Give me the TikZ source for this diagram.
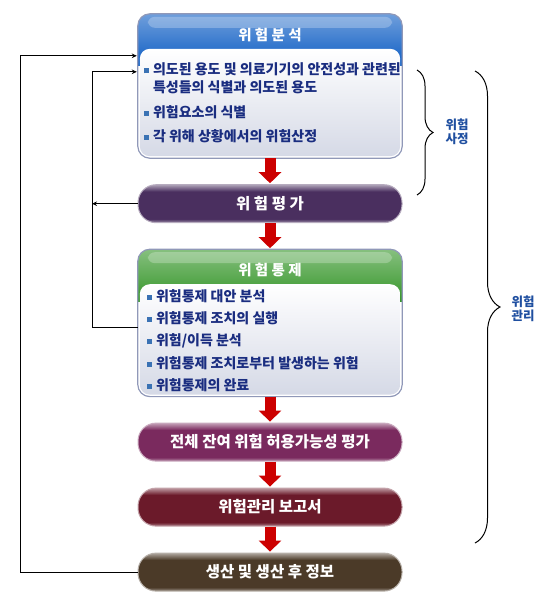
\documentclass[tikz,border=0pt]{standalone}
\usepackage{fontspec}
\setmainfont{Noto Sans CJK KR}
\usepackage{xcolor}
\usetikzlibrary{arrows.meta,positioning,calc,decorations.pathreplacing}

\definecolor{hdblue}{HTML}{0F5EC4}
\definecolor{hdgreen}{HTML}{36962A}
\definecolor{edgegray}{HTML}{9098B8}
\definecolor{bodygray}{HTML}{D5D9E6}
\definecolor{itemblue}{HTML}{1A2D80}
\definecolor{bulblue}{HTML}{3A72B4}
\definecolor{tagblue}{HTML}{1F4FA0}
\definecolor{arrred}{HTML}{CC0000}
\definecolor{evalpurple}{HTML}{4A2F5F}
\definecolor{residplum}{HTML}{7A2A5E}
\definecolor{reportred}{HTML}{6B1A2A}
\definecolor{prodbrown}{HTML}{4B3A28}
\colorlet{pillc}{evalpurple}

\pgfdeclareverticalshading[pillc]{pillgloss}{100bp}{color(0bp)=(pillc!55!white); color(25bp)=(pillc!55!white); color(30bp)=(pillc); color(66bp)=(pillc); color(75bp)=(pillc!45!white); color(100bp)=(pillc!45!white)}

\newcommand{\bul}{\textcolor{bulblue}{\rule[1.5pt]{5pt}{5pt}}\hspace{4pt}}

\begin{document}
\begin{tikzpicture}[
    x=1pt, y=1pt,
    node distance=26pt,
    riskbox/.style={rectangle, minimum width=264pt, inner sep=0pt},
    boxedge/.style={draw=edgegray, line width=1.2pt, rounded corners=12pt},
    boxbody/.style={top color=white, bottom color=bodygray, rounded corners=10pt},
    pillcol/.code={\colorlet{pillc}{#1}},
    pill/.style={rectangle, rounded corners=18pt, minimum width=264pt, minimum height=38pt, shading=pillgloss, draw=pillc!40!white, line width=1pt, text=white, font=\fontsize{15.5}{17}\selectfont\bfseries},
    title/.style={text=white, font=\fontsize{14.5}{16}\selectfont\bfseries},
    items/.style={align=left, text=itemblue, inner sep=0pt},
    redarr/.style={-{Triangle[width=22pt,length=11pt]}, line width=11pt, draw=arrred, shorten >=1pt},
    fb/.style={-{Stealth[length=5pt,width=4.5pt]}, line width=0.9pt},
    tag/.style={text=tagblue, align=center, font=\fontsize{12.5}{14}\selectfont\bfseries},
    brc/.style={decorate, line width=1pt}
]
    \useasboundingbox (0,0) rectangle (549,-603);

    % main column
    \node [riskbox, minimum height=144pt] (ana) at (270,-86) {};
    \node [pill, pillcol=evalpurple, below=of ana] (eval) {위 험 평 가};
    \node [riskbox, minimum height=147pt, below=of eval] (ctl) {};
    \node [pill, pillcol=residplum, below=of ctl] (resid) {전체 잔여 위험 허용가능성 평가};
    \node [pill, pillcol=reportred, below=of resid] (report) {위험관리 보고서};
    \node [pill, pillcol=prodbrown, below=of report] (prod) {생산 및 생산 후 정보};

    % risk analysis box
    \begin{scope}
        \clip [rounded corners=12pt] (ana.north west) rectangle (ana.south east);
        \shade [top color=hdblue!60!white, bottom color=hdblue] (ana.north west) rectangle ($(ana.north east)+(0,-52)$);
    \end{scope}
    \fill [white, opacity=.25, rounded corners=7pt] ($(ana.north west)+(10,-3)$) rectangle ($(ana.north east)+(-10,-14)$);
    \shade [boxbody] ($(ana.north west)+(2,-35)$) rectangle ($(ana.south east)+(-2,2)$);
    \draw [boxedge] (ana.north west) rectangle (ana.south east);
    \node [title] (anatitle) at ($(ana.north)+(0,-21)$) {위 험 분 석};
    \node [items, anchor=north west, font=\fontsize{14}{18}\selectfont\bfseries] (analist) at ($(ana.north west)+(6,-49)$)
        {\bul 의도된 용도 및 의료기기의 안전성과 관련된\\
         \hspace*{9pt}특성들의 식별과 의도된 용도\\[6.5pt]
         \bul 위험요소의 식별\\[6pt]
         \bul 각 위해 상황에서의 위험산정};

    % risk control box
    \begin{scope}
        \clip [rounded corners=12pt] (ctl.north west) rectangle (ctl.south east);
        \shade [top color=hdgreen!60!white, bottom color=hdgreen] (ctl.north west) rectangle ($(ctl.north east)+(0,-52)$);
    \end{scope}
    \fill [white, opacity=.25, rounded corners=7pt] ($(ctl.north west)+(10,-3)$) rectangle ($(ctl.north east)+(-10,-14)$);
    \shade [boxbody] ($(ctl.north west)+(2,-35)$) rectangle ($(ctl.south east)+(-2,2)$);
    \draw [boxedge] (ctl.north west) rectangle (ctl.south east);
    \node [title] (ctltitle) at ($(ctl.north)+(0,-21)$) {위 험 통 제};
    \node [items, anchor=north west, font=\fontsize{14}{22.3}\selectfont\bfseries] (ctllist) at ($(ctl.north west)+(9,-40)$)
        {\bul 위험통제 대안 분석\\
         \bul 위험통제 조치의 실행\\
         \bul 위험/이득 분석\\
         \bul 위험통제 조치로부터 발생하는 위험\\
         \bul 위험통제의 완료};

    % red arrows
    \draw [redarr] (ana) -- (eval);
    \draw [redarr] (eval) -- (ctl);
    \draw [redarr] (ctl) -- (resid);
    \draw [redarr] (resid) -- (report);
    \draw [redarr] (report) -- (prod);

    % feedback lines
    \coordinate (outer) at (20,0);
    \coordinate (inner) at (92,0);
    \coordinate (in1) at ($(ana.north west)+(-1,-42)$);
    \coordinate (in2) at ($(ana.north west)+(-1,-58)$);
    \coordinate (ctlout) at ($(ctl.north west)+(0,-78)$);
    \draw [fb] (prod.west) -- (prod.west -| outer) -- (in1 -| outer) -- (in1);
    \draw [fb] (ctlout) -- (ctlout -| inner) -- (in2 -| inner) -- (in2);
    \draw [fb] (eval.west) -- (eval.west -| inner);

    % braces
    \coordinate (s1) at (417,-70);
    \coordinate (s2) at (417,-195);
    \coordinate (m1) at (475,-71);
    \coordinate (m2) at (475,-543);
    \draw [brc, decoration={brace, amplitude=16pt}] (s1) -- (s2);
    \draw [brc, decoration={brace, amplitude=25pt}] (m1) -- (m2);
    \node [tag] (assess) at (457,-132) {위험\\사정};
    \node [tag] (manage) at (523,-309) {위험\\관리};
\end{tikzpicture}
\end{document}
